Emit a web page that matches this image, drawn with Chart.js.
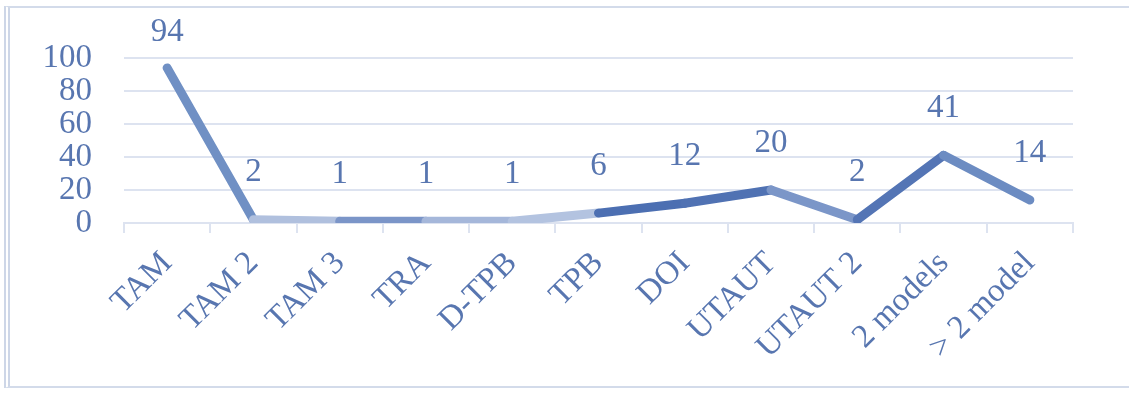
<!DOCTYPE html>
<html>
<head>
<meta charset="utf-8">
<script src="https://cdn.jsdelivr.net/npm/chart.js@4.4.1/dist/chart.umd.min.js"></script>
<style>
  html, body { margin: 0; padding: 0; background: #fff; }
  #wrap { position: relative; width: 1129px; height: 397px; overflow: hidden; }
  #frame {
    position: absolute; left: 4px; top: 6px; width: 1140px; height: 378px;
    border: 2px solid #d3dbea; border-left: 6px double #cdd6e7;
    pointer-events: none;
  }
  canvas { position: absolute; left: 0; top: 0; }
</style>
</head>
<body>
<div id="wrap">
  <div id="frame"></div>
  <canvas id="myChart" width="1129" height="397"></canvas>
</div>
<script>
// categories and counts
const models = ['TAM', 'TAM 2', 'TAM 3', 'TRA', 'D-TPB', 'TPB', 'DOI', 'UTAUT', 'UTAUT 2', '2 models', '> 2 model'];
const counts = [94, 2, 1, 1, 1, 6, 12, 20, 2, 41, 14];
const yTicks = [0, 20, 40, 60, 80, 100];

// each segment gets its own shade (Excel "vary colours by point")
const segColors = ['#7090c4', '#b0c0de', '#7b95c8', '#a5b7da', '#b3c3e0', '#4c6fb2', '#5072b3', '#7b96c8', '#5475b5', '#6c8cc2'];

const textColor = '#5876b0';
const gridColor = '#dde3f0';
const font = { family: '"Liberation Serif", "Times New Roman", serif', size: 33 };

// draws the value above each point
const valueLabels = {
  id: 'valueLabels',
  afterDatasetsDraw(chart) {
    const ctx = chart.ctx;
    const meta = chart.getDatasetMeta(0);
    ctx.save();
    ctx.font = `${font.size}px ${font.family}`;
    ctx.fillStyle = textColor;
    ctx.textAlign = 'center';
    ctx.textBaseline = 'middle';
    meta.data.forEach((pt, i) => {
      const y = Math.max(pt.y - 47, 32);
      ctx.fillText(String(counts[i]), pt.x, y);
    });
    ctx.restore();
  }
};

const ctx = document.querySelector('#myChart').getContext('2d');
const chart = new Chart(ctx, {
  type: 'line',
  data: {
    labels: models,
    datasets: [{
      data: counts,
      borderWidth: 9,
      borderCapStyle: 'round',
      borderJoinStyle: 'round',
      pointRadius: 0,
      segment: { borderColor: c => segColors[c.p0DataIndex] }
    }]
  },
  options: {
    responsive: false,
    animation: false,
    layout: { padding: { top: 58, right: 56, left: 0, bottom: 0 } },
    plugins: { legend: { display: false }, tooltip: { enabled: false } },
    scales: {
      x: {
        offset: true,
        grid: { offset: true, drawOnChartArea: false, drawTicks: true, tickLength: 10, color: gridColor, lineWidth: 2 },
        border: { display: true, color: gridColor, width: 2 },
        ticks: { color: textColor, font, minRotation: 45, maxRotation: 45, padding: 11, autoSkip: false },
        afterFit: s => { s.height = 174; s.paddingLeft = 0; s.paddingRight = 0; }
      },
      y: {
        min: 0,
        max: 100,
        afterBuildTicks: s => { s.ticks = yTicks.map(v => ({ value: v })); },
        grid: { drawTicks: false, color: gridColor, lineWidth: 2 },
        border: { display: false },
        ticks: { color: textColor, font, padding: 32, autoSkip: false },
        afterFit: s => { s.width = 124; }
      }
    }
  },
  plugins: [valueLabels]
});
</script>
</body>
</html>
